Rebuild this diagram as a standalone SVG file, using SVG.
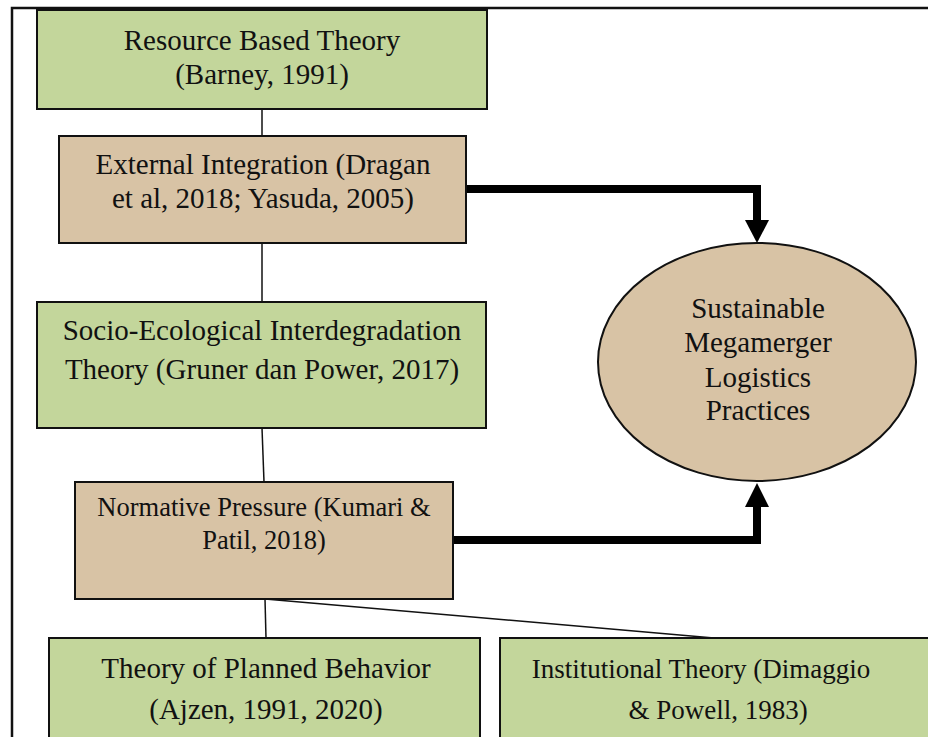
<svg xmlns="http://www.w3.org/2000/svg" width="928" height="737" viewBox="0 0 928 737">
<style>
  .g{fill:#c3d69b;stroke:#111;stroke-width:2}
  .t{fill:#d8c3a5;stroke:#111;stroke-width:2}
  .lbl{font-family:"Liberation Serif","Times New Roman",serif;font-size:29px;fill:#111;text-anchor:middle}
  .sm{font-size:26.5px}
  .md{font-size:27px}
  .thin{stroke:#111;stroke-width:1.5;fill:none}
  .thick{stroke:#000;stroke-width:8;fill:none}
</style>
<rect x="0" y="0" width="928" height="737" fill="#fff"/>
<path d="M12 737 V8 H928" fill="none" stroke="#111" stroke-width="2.5"/>
<g id="connectors">
  <line class="thin" x1="262" y1="109" x2="262" y2="136"/>
  <line class="thin" x1="262" y1="243" x2="262" y2="302"/>
  <line class="thin" x1="262" y1="428" x2="264" y2="482"/>
  <line class="thin" x1="265" y1="599" x2="266" y2="638"/>
  <line class="thin" x1="265" y1="599" x2="714" y2="638"/>
  <path class="thick" d="M466 189 H757 V221"/>
  <polygon points="745,220 769,220 757,243" fill="#000"/>
  <path class="thick" d="M453 540 H757 V506"/>
  <polygon points="745,507 769,507 757,483" fill="#000"/>
</g>
<g id="resource-based">
  <rect class="g" x="37" y="10" width="450" height="99"/>
  <text class="lbl" x="262" y="50">Resource Based Theory</text>
  <text class="lbl" x="262" y="84">(Barney, 1991)</text>
</g>
<g id="external-integration">
  <rect class="t" x="59" y="136" width="407" height="107"/>
  <text class="lbl" x="263" y="174">External Integration (Dragan</text>
  <text class="lbl" x="263" y="208">et al, 2018; Yasuda, 2005)</text>
</g>
<g id="socio-ecological">
  <rect class="g" x="37" y="302" width="449" height="126"/>
  <text class="lbl" x="262" y="340">Socio-Ecological Interdegradation</text>
  <text class="lbl" x="262" y="379">Theory (Gruner dan Power, 2017)</text>
</g>
<g id="normative-pressure">
  <rect class="t" x="75" y="482" width="378" height="117"/>
  <text class="lbl sm" x="264" y="516">Normative Pressure (Kumari &amp;</text>
  <text class="lbl sm" x="264" y="549">Patil, 2018)</text>
</g>
<g id="planned-behavior">
  <rect class="g" x="49" y="638" width="431" height="110"/>
  <text class="lbl" x="266" y="678">Theory of Planned Behavior</text>
  <text class="lbl" x="266" y="719">(Ajzen, 1991, 2020)</text>
</g>
<g id="institutional">
  <rect class="g" x="500" y="638" width="440" height="110"/>
  <text class="lbl md" x="701" y="678">Institutional Theory (Dimaggio</text>
  <text class="lbl md" x="718" y="719">&amp; Powell, 1983)</text>
</g>
<g id="sustainable">
  <ellipse cx="757" cy="362" rx="159" ry="119" fill="#d8c3a5" stroke="#111" stroke-width="2"/>
  <text class="lbl" x="758" y="318">Sustainable</text>
  <text class="lbl" x="758" y="352">Megamerger</text>
  <text class="lbl" x="758" y="387">Logistics</text>
  <text class="lbl" x="758" y="420">Practices</text>
</g>
</svg>
